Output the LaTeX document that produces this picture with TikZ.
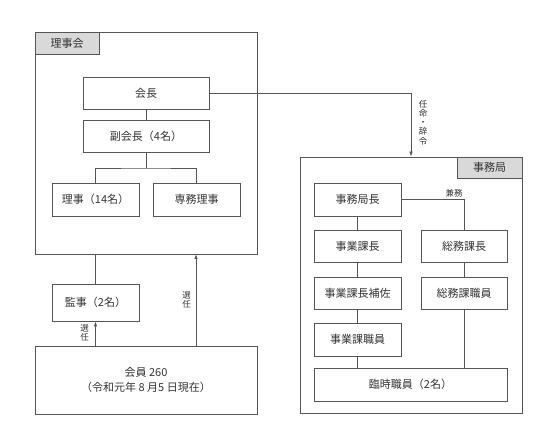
\documentclass[tikz,border=0pt]{standalone}
\usepackage{fontspec}
\setmainfont{Noto Sans CJK JP}
\usetikzlibrary{arrows.meta}
\definecolor{linec}{HTML}{555555}
\definecolor{txtc}{HTML}{333333}
\definecolor{tabc}{HTML}{D9D9D9}
\tikzset{
  box/.style={draw=linec, line width=0.8pt, fill=white, inner sep=0pt, text=txtc, font=\fontsize{11}{12}\selectfont},
  frame/.style={draw=linec, line width=0.8pt, inner sep=0pt},
  tabbox/.style={draw=linec, line width=0.8pt, fill=tabc, inner sep=0pt, text=txtc, font=\fontsize{11}{12}\selectfont},
  conn/.style={draw=linec, line width=0.8pt},
  arr/.style={conn, -{Latex[length=5pt,width=3.5pt]}},
  lbl/.style={text=txtc, font=\fontsize{8.5}{9.5}\selectfont, align=center, inner sep=0pt},
}
\begin{document}
\begin{tikzpicture}[x=1pt,y=-1pt]
\useasboundingbox (0,0) rectangle (557,443);
% 理事会
\node[frame, minimum width=222, minimum height=222] (rjk) at (146,143) {};
\node[tabbox, minimum width=64, minimum height=22] (rjktab) at (67,43) {理事会};
\node[box, minimum width=126, minimum height=32] (kaicho) at (146,93) {会長};
\node[box, minimum width=126, minimum height=32] (fuku) at (146,136) {副会長（4名）};
\node[box, minimum width=87, minimum height=33] (riji) at (95.5,199.5) {理事（14名）};
\node[box, minimum width=87, minimum height=33] (senmu) at (196.5,199.5) {専務理事};
\coordinate (br) at (146,168);
\draw[conn] (kaicho.south) -- (fuku.north);
\draw[conn] (fuku.south) -- (br);
\draw[conn] (riji.north) |- (br) -| (senmu.north);
% 監事・会員
\node[box, minimum width=87, minimum height=37] (kanji) at (95.5,302.5) {監事（2名）};
\node[box, minimum width=222, minimum height=68, align=center, font=\fontsize{11}{15.5}\selectfont] (kaiin) at (146,380) {会員 260\\（令和元年 8 月5 日現在）};
\draw[conn] (kanji.north) -- (kanji.north |- rjk.south);
\draw[arr] (kaiin.north -| kanji) -- (kanji.south);
\coordinate (up) at (196,254);
\draw[arr] (kaiin.north -| up) -- (up);
\node[lbl] (sen1) at (84.5,333) {選\\任};
\node[lbl] (sen2) at (186.5,300) {選\\任};
% 事務局
\node[frame, minimum width=222, minimum height=256] (jmk) at (411,285) {};
\node[tabbox, minimum width=65, minimum height=21] (jmktab) at (489.5,167.5) {事務局};
\coordinate (turn) at (411,93);
\draw[arr] (kaicho.east) -- (turn) -- (turn |- jmk.north);
\node[lbl, font=\fontsize{8.5}{9.2}\selectfont] (ninmei) at (423,122.5) {任\\命\\・\\辞\\令};
\node[box, minimum width=87, minimum height=33] (jkc) at (357.5,199.5) {事務局長};
\node[box, minimum width=87, minimum height=32] (jgk) at (357.5,246) {事業課長};
\node[box, minimum width=87, minimum height=32] (jgh) at (357.5,293) {事業課長補佐};
\node[box, minimum width=87, minimum height=33] (jgs) at (357.5,339.5) {事業課職員};
\node[box, minimum width=86, minimum height=32] (smk) at (464,246) {総務課長};
\node[box, minimum width=86, minimum height=32] (sms) at (464,293) {総務課職員};
\node[box, minimum width=193, minimum height=33] (rinji) at (410.5,384.5) {臨時職員（2名）};
\draw[conn] (jkc.south) -- (jgk.north);
\draw[conn] (jgk.south) -- (jgh.north);
\draw[conn] (jgh.south) -- (jgs.north);
\draw[conn] (jgs.south) -- (jgs.south |- rinji.north);
\draw[conn] (jkc.east) -| (smk.north);
\draw[conn] (smk.south) -- (sms.north);
\draw[conn] (sms.south) -- (sms.south |- rinji.north);
\node[lbl] (kenmu) at (454,193) {兼務};
\end{tikzpicture}
\end{document}
